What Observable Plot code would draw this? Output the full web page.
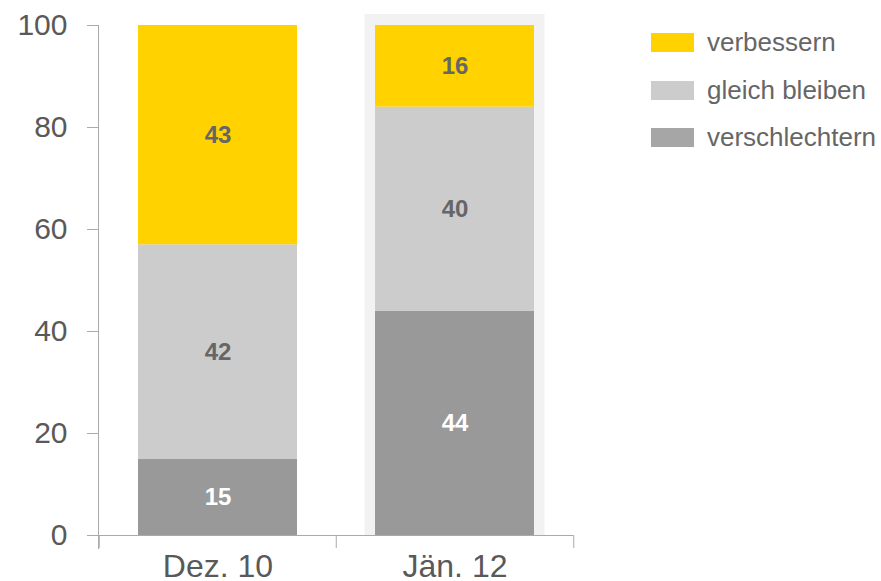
<!DOCTYPE html>
<html><head><meta charset="utf-8">
<script src="https://cdn.jsdelivr.net/npm/d3@7"></script>
<script src="https://cdn.jsdelivr.net/npm/@observablehq/plot@0.6"></script>
<style>
body{margin:0;background:#fff;font-family:"Liberation Sans",Arial,sans-serif;}
#wrap{position:relative;width:881px;height:581px;overflow:hidden;}
#legend{position:absolute;left:651px;top:19px;}
.item{display:flex;align-items:center;height:47.5px;}
.sw{width:43px;height:19px;margin-right:13px;}
.lab{font-size:26px;color:#666;}
</style></head>
<body><div id="wrap"><div id="legend"></div></div>
<script>
const categories = ["Dez. 10", "Jän. 12"];
const seriesNames = ["verschlechtern", "gleich bleiben", "verbessern"];
const verschlechtern = [15, 44];
const gleichBleiben = [42, 40];
const verbessern = [43, 16];
const yTicks = [0, 20, 40, 60, 80, 100];
const colors = ["#999999", "#cccccc", "#ffd200"];
const labelColors = ["#ffffff", "#666666", "#666666"];
const highlight = ["Jän. 12"];

const seriesValues = [verschlechtern, gleichBleiben, verbessern];
const data = [];
seriesNames.forEach((s, si) => categories.forEach((c, ci) => data.push({cat: c, series: s, value: seriesValues[si][ci], si})));

const W = 881, H = 581, mL = 98, mR = 308, mT = 25, mB = 46;
const step = (W - mL - mR) / categories.length;

const chart = Plot.plot({
  width: W, height: H,
  marginLeft: mL, marginRight: mR, marginTop: mT, marginBottom: mB,
  style: {fontFamily: "'Liberation Sans', Arial, sans-serif", background: "#fff", overflow: "visible"},
  x: {domain: categories, paddingInner: 0.33, paddingOuter: 0.165, align: 0.5, axis: null},
  y: {domain: [0, 100], axis: null},
  color: {domain: seriesNames, range: colors},
  marks: [
    Plot.barY(highlight, {x: d => d, y1: 0, y2: 100, fill: "#f2f2f2", insetLeft: -10.5, insetRight: -10.5, insetTop: -11}),
    Plot.barY(data, Plot.stackY({x: "cat", y: "value", z: "series", fill: "series"})),
    Plot.text(data, Plot.stackY({x: "cat", y: "value", z: "series", text: d => String(d.value),
      fill: d => labelColors[d.si], fontSize: 24, fontWeight: "bold"})),
    Plot.axisY({ticks: yTicks, label: null, tickSize: 11, tickPadding: 20, fontSize: 30, color: "#595959", stroke: "#aaaaaa", tickFormat: d => String(d)}),
    Plot.frame({anchor: "left", stroke: "#aaaaaa", strokeOpacity: 1, insetBottom: -13}),
    Plot.ruleY([0], {stroke: "#aaaaaa", insetLeft: -10}),
    Plot.ruleX(categories, {x: d => d, y1: 0, y2: 0, dx: -step / 2, insetBottom: -13, stroke: "#aaaaaa"}),
    Plot.ruleX(categories.slice(-1), {x: d => d, y1: 0, y2: 0, dx: step / 2, insetBottom: -13, stroke: "#aaaaaa"}),
    Plot.axisX({label: null, tickSize: 0, tickPadding: 19, fontSize: 32, color: "#595959"})
  ]
});
document.getElementById("wrap").prepend(chart);

const legend = document.getElementById("legend");
[...seriesNames].reverse().forEach(s => {
  const i = seriesNames.indexOf(s);
  const sw = i === 0 ? "#a6a6a6" : colors[i];
  legend.insertAdjacentHTML("beforeend", `<div class="item"><div class="sw" style="background:${sw}"></div><span class="lab">${s}</span></div>`);
});
</script></body></html>
